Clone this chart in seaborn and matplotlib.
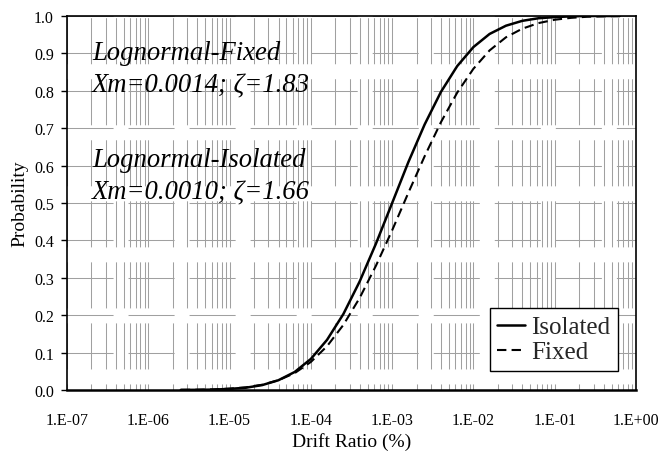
import numpy as np
import pandas as pd
import seaborn as sns
import matplotlib.pyplot as plt
from matplotlib.ticker import LogLocator, FuncFormatter, MultipleLocator, NullLocator

# drift ratio points (0.2 decade steps)
drift = [2.51e-6, 3.98e-6, 6.31e-6,
         1.00e-5, 1.58e-5, 2.51e-5, 3.98e-5, 6.31e-5,
         1.00e-4, 1.58e-4, 2.51e-4, 3.98e-4, 6.31e-4,
         1.00e-3, 1.58e-3, 2.51e-3, 3.98e-3, 6.31e-3,
         1.00e-2, 1.58e-2, 2.51e-2, 3.98e-2, 6.31e-2,
         1.00e-1, 1.58e-1, 2.51e-1, 3.98e-1, 6.31e-1]

isolated = [0.0002, 0.0004, 0.001,
            0.003, 0.006, 0.013, 0.026, 0.048,
            0.083, 0.134, 0.203, 0.290, 0.391,
            0.500, 0.609, 0.710, 0.797, 0.866,
            0.917, 0.952, 0.974, 0.987, 0.994,
            0.997, 0.999, 1.000, 1.000, 1.000]

fixed = [0.0003, 0.0007, 0.0016,
         0.0035, 0.007, 0.014, 0.026, 0.045,
         0.075, 0.117, 0.174, 0.246, 0.332,
         0.427, 0.527, 0.625, 0.716, 0.795,
         0.859, 0.908, 0.943, 0.966, 0.981,
         0.990, 0.995, 0.998, 0.999, 1.000]

series = ['Isolated', 'Fixed']
notes = ['Lognormal-Fixed', 'Xm=0.0014; ζ=1.83',
         'Lognormal-Isolated', 'Xm=0.0010; ζ=1.66']

df = pd.concat([
    pd.DataFrame({'drift': drift, 'prob': isolated, 'model': 'Isolated'}),
    pd.DataFrame({'drift': drift, 'prob': fixed, 'model': 'Fixed'}),
])

sns.set_theme(style='white')
plt.rcParams['font.family'] = ['Liberation Serif', 'DejaVu Serif']

fig = plt.figure(figsize=(6.61, 4.52), dpi=100)
ax = fig.add_axes([0.1014, 0.135, 0.8608, 0.8274])
ax.set_xscale('log')

sns.lineplot(data=df, x='drift', y='prob', hue='model', style='model',
             hue_order=series, style_order=series,
             palette={'Isolated': 'black', 'Fixed': 'black'},
             dashes={'Isolated': '', 'Fixed': (4.5, 2.5)},
             size='model', sizes={'Isolated': 1.8, 'Fixed': 1.5},
             estimator=None, sort=True, ax=ax, legend=False, zorder=3)

ax.set_xlim(1e-7, 1)
ax.set_ylim(0, 1)
ax.xaxis.set_major_locator(LogLocator(base=10, numticks=20))
ax.xaxis.set_minor_locator(LogLocator(base=10, subs=np.arange(2, 10), numticks=20))
ax.xaxis.set_major_formatter(FuncFormatter(lambda v, p: '1.E%+03d' % int(round(np.log10(v)))))
ax.yaxis.set_major_locator(MultipleLocator(0.1))
ax.yaxis.set_minor_locator(NullLocator())
ax.yaxis.set_major_formatter(FuncFormatter(lambda v, p: '%.1f' % v))

# broken grey grid like the original
lw = 0.75
ax.grid(which='both', axis='x', color='#a0a0a0', lw=lw, linestyle=(38.4, (44.2, 14.4)))
ax.grid(which='major', axis='y', color='#a0a0a0', lw=lw, linestyle=(0, (44.2, 14.4)))
ax.set_axisbelow(True)

ax.tick_params(axis='x', which='both', length=0, pad=16, labelsize=11.5, colors='black')
ax.tick_params(axis='y', which='major', length=4, width=1, direction='out', left=True,
               pad=5.5, labelsize=11.5, colors='black')

for s in ax.spines.values():
    s.set_color('black')
    s.set_linewidth(1.2)
ax.spines['bottom'].set_linewidth(1.8)

ax.set_xlabel('Drift Ratio (%)', fontsize=14, labelpad=3, color='black')
ax.set_ylabel('Probability', fontsize=14, labelpad=4, color='black')

for txt, yy in zip(notes, [0.885, 0.797, 0.599, 0.511]):
    ax.text(0.044, yy, txt, transform=ax.transAxes, fontsize=19.2, style='italic',
            va='baseline', ha='left', color='black')

handles = [plt.Line2D([], [], color='black', lw=1.8),
           plt.Line2D([], [], color='black', lw=1.5, dashes=(4.5, 2.5))]
leg = ax.legend(handles, series, loc='lower right', bbox_to_anchor=(0.968, 0.051),
                borderaxespad=0, fontsize=18, fancybox=False, framealpha=1,
                edgecolor='black', handlelength=1.1, handletextpad=0.25,
                labelspacing=0.1, borderpad=0.3)
leg.get_frame().set_linewidth(1.0)

fig.savefig('out.png', dpi=100)
